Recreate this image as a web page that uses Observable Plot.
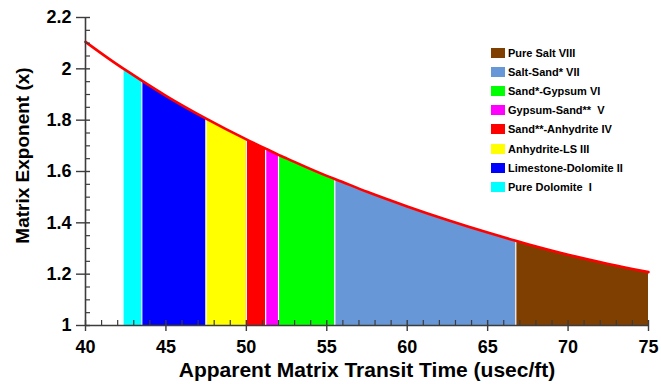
<!DOCTYPE html>
<html>
<head>
<meta charset="utf-8">
<script src="https://cdn.jsdelivr.net/npm/d3@7"></script>
<script src="https://cdn.jsdelivr.net/npm/@observablehq/plot@0.6"></script>
<style>
  body { margin: 0; background: #fff; }
  #chart { position: relative; width: 661px; height: 384px; font-family: "Liberation Sans", Arial, sans-serif; }
  #chart svg { display: block; }
  .legend { position: absolute; left: 491px; top: 43px; font-weight: bold; font-size: 11px; color: #000; }
  .legend .row { display: flex; align-items: center; height: 19.2px; white-space: pre; }
  .legend .sw { width: 14px; height: 10px; margin-right: 3px; flex: none; }
</style>
</head>
<body>
<div id="chart"></div>
<script>
// Matrix exponent curve vs apparent matrix transit time
const transitTime = [40, 42.4, 42.5, 43.5, 45, 47.5, 50, 51.2, 52, 52.5, 55, 55.5, 57.5, 60, 62.5, 65, 66.75, 67.5, 70, 72.5, 75];
const exponent    = [2.105, 1.999, 1.995, 1.954, 1.895, 1.806, 1.725, 1.689, 1.665, 1.651, 1.583, 1.571, 1.521, 1.464, 1.411, 1.362, 1.330, 1.317, 1.276, 1.240, 1.208];

// Lithology zones, left to right along the transit-time axis
const zoneNames  = ["Pure Dolomite  I", "Limestone-Dolomite II", "Anhydrite-LS III", "Sand**-Anhydrite IV", "Gypsum-Sand**  V", "Sand*-Gypsum VI", "Salt-Sand* VII", "Pure Salt VIII"];
const zoneStart  = [42.4, 43.5, 47.5, 50, 51.2, 52, 55.5, 66.75];
const zoneEnd    = [43.5, 47.5, 50, 51.2, 52, 55.5, 66.75, 75];
const zoneColors = ["#00ffff", "#0000ff", "#ffff00", "#ff0000", "#ff00ff", "#00ff00", "#6797d6", "#7f3f00"];

// Axis ticks and titles
const xMajor = [40, 45, 50, 55, 60, 65, 70, 75];
const xMinor = d3.range(40, 76, 1).filter(v => v % 5 !== 0);
const yMajor = [1, 1.2, 1.4, 1.6, 1.8, 2, 2.2];
const yMinor = [1.05, 1.1, 1.15, 1.25, 1.3, 1.35, 1.45, 1.5, 1.55, 1.65, 1.7, 1.75, 1.85, 1.9, 1.95, 2.05, 2.1, 2.15];
const xTitle = "Apparent Matrix Transit Time (usec/ft)";
const yTitle = "Matrix Exponent (x)";

const curve = transitTime.map((t, i) => ({t, e: exponent[i]}));
const zones = zoneNames.map((name, i) => ({
  name, color: zoneColors[i], start: zoneStart[i], end: zoneEnd[i],
  rows: curve.filter(d => d.t >= zoneStart[i] && d.t <= zoneEnd[i])
}));
const topAt = t => curve.find(d => d.t === t).e;
const dividers = zoneStart.slice(1).map(t => ({t, e: topAt(t)}));

const axisColor = "#3c3c3c";
const font = "'Liberation Sans', Arial, sans-serif";

const plot = Plot.plot({
  width: 661,
  height: 384,
  marginLeft: 85,
  marginRight: 13,
  marginTop: 17,
  marginBottom: 59,
  style: {fontFamily: font, fontWeight: "bold", color: "#000", background: "#fff", overflow: "visible"},
  x: {domain: [40, 75]},
  y: {domain: [1, 2.2]},
  marks: [
    ...zones.map(z => Plot.areaY(z.rows, {x: "t", y1: 1, y2: "e", fill: z.color, curve: "monotone-x"})),
    Plot.ruleX(dividers, {x: "t", y1: 1, y2: "e", stroke: "#fff", strokeWidth: 1.2}),
    Plot.line(curve, {x: "t", y: "e", stroke: "#ff0000", strokeWidth: 2.6, curve: "monotone-x"}),
    // axis lines
    Plot.ruleX([40], {stroke: axisColor, strokeWidth: 1.6}),
    Plot.ruleY([1], {stroke: axisColor, strokeWidth: 1.6}),
    // y ticks: majors cross the axis, minors point inward
    Plot.axisY(yMajor, {tickSize: 14, dx: 5, stroke: axisColor, strokeWidth: 1.4, tickFormat: () => "", label: null}),
    Plot.axisY(yMinor, {tickSize: 5, dx: 5, stroke: axisColor, strokeWidth: 1.2, tickFormat: () => "", label: null}),
    Plot.axisY(yMajor, {tickSize: 0, tickPadding: 14, fontSize: 18, fill: "#000", tickFormat: d => String(+d.toFixed(1)), label: null}),
    Plot.text([yTitle], {text: d => d, frameAnchor: "left", textAnchor: "middle", rotate: -90, dx: -63, dy: -16, fontSize: 19, fontWeight: "bold", fill: "#000"}),
    // x ticks
    Plot.axisX(xMajor, {tickSize: 11, dy: -5, stroke: axisColor, strokeWidth: 1.4, tickFormat: () => "", label: null}),
    Plot.axisX(xMinor, {tickSize: 5, dy: -5, stroke: axisColor, strokeWidth: 1.2, tickFormat: () => "", label: null}),
    Plot.axisX(xMajor, {tickSize: 0, tickPadding: 15, fontSize: 18, fill: "#000", tickFormat: d => String(d), label: null}),
    Plot.axisX([], {tickSize: 0, fontSize: 21, label: xTitle, labelAnchor: "center", labelArrow: "none", labelOffset: 51})
  ]
});

const chart = document.getElementById("chart");
chart.appendChild(plot);

// Legend, listed from the highest zone down
const legend = document.createElement("div");
legend.className = "legend";
for (const z of zones.slice().reverse()) {
  const row = document.createElement("div");
  row.className = "row";
  const sw = document.createElement("span");
  sw.className = "sw";
  sw.style.background = z.color;
  const label = document.createElement("span");
  label.textContent = z.name;
  row.append(sw, label);
  legend.appendChild(row);
}
chart.appendChild(legend);
</script>
</body>
</html>
